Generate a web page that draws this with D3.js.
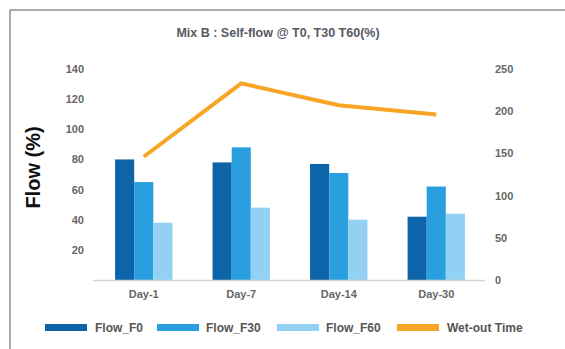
<!DOCTYPE html>
<html>
<head>
<meta charset="utf-8">
<script src="https://cdn.jsdelivr.net/npm/d3@7"></script>
<style>
  html, body { margin: 0; padding: 0; background: #fff; }
  svg { display: block; font-family: "Liberation Sans", Arial, "DejaVu Sans", sans-serif; }
</style>
</head>
<body>
<svg id="chart" width="565" height="349"></svg>
<script>
// Flow (%) per day for each series, wet-out time on the secondary axis
const days = ["Day-1", "Day-7", "Day-14", "Day-30"];
const flowF0 = [80, 78, 77, 42];
const flowF30 = [65, 88, 71, 62];
const flowF60 = [38, 48, 40, 44];
const wetOutTime = [146, 233, 207, 196];
const leftTicks = [20, 40, 60, 80, 100, 120, 140];
const rightTicks = [0, 50, 100, 150, 200, 250];
const seriesNames = ["Flow_F0", "Flow_F30", "Flow_F60"];
const seriesColors = ["#0e64a8", "#2a9fdf", "#92d1f3"];
const lineName = "Wet-out Time";
const lineColor = "#f6a524";

const svg = d3.select("#chart");
const W = 565, H = 349;
const plot = { left: 95, right: 485, top: 69, bottom: 280 };

// outer frame (runs off the right and bottom edges)
svg.append("rect")
  .attr("x", 10).attr("y", 10)
  .attr("width", W).attr("height", H)
  .attr("fill", "none").attr("stroke", "#8c929b").attr("stroke-width", 1.5);

svg.append("text")
  .attr("x", 278).attr("y", 37)
  .attr("text-anchor", "middle")
  .attr("font-size", 12.5).attr("font-weight", "bold")
  .attr("fill", "#555a63")
  .text("Mix B : Self-flow @ T0, T30 T60(%)");

const x = d3.scaleBand().domain(days).range([plot.left, plot.right]).paddingInner(0).paddingOuter(0);
const x1 = d3.scaleBand().domain(seriesNames).range([0, x.bandwidth()]).paddingInner(0).paddingOuter(1.05);
const yL = d3.scaleLinear().domain([0, 140]).range([plot.bottom, plot.top]);
const yR = d3.scaleLinear().domain([0, 250]).range([plot.bottom, plot.top]);

// left axis labels
const leftAxis = d3.axisLeft(yL).tickValues(leftTicks).tickSize(0).tickPadding(0);
const gL = svg.append("g").attr("transform", `translate(84,0)`).call(leftAxis);
gL.select(".domain").remove();
gL.selectAll("text").attr("font-size", 11).attr("font-weight", "bold").attr("fill", "#666").attr("font-family", null);

// right axis labels
const rightAxis = d3.axisRight(yR).tickValues(rightTicks).tickSize(0).tickPadding(0);
const gR = svg.append("g").attr("transform", `translate(495,0)`).call(rightAxis);
gR.select(".domain").remove();
gR.selectAll("text").attr("font-size", 11).attr("font-weight", "bold").attr("fill", "#666").attr("font-family", null);

svg.append("text")
  .attr("transform", `translate(40,${(plot.top + plot.bottom) / 2 - 7}) rotate(-90)`)
  .attr("text-anchor", "middle")
  .attr("font-size", 20).attr("font-weight", "bold").attr("fill", "#111")
  .text("Flow (%)");

// bars
const allSeries = [flowF0, flowF30, flowF60];
const groups = svg.append("g");
days.forEach((d, i) => {
  allSeries.forEach((vals, s) => {
    groups.append("rect")
      .attr("x", x(d) + x1(seriesNames[s]))
      .attr("y", yL(vals[i]))
      .attr("width", x1.bandwidth())
      .attr("height", plot.bottom - yL(vals[i]))
      .attr("fill", seriesColors[s]);
  });
});

// baseline
svg.append("line")
  .attr("x1", plot.left - 2).attr("x2", plot.right)
  .attr("y1", plot.bottom + 0.5).attr("y2", plot.bottom + 0.5)
  .attr("stroke", "#d9d6cc").attr("stroke-width", 1.5);

// category labels
const xAxis = d3.axisBottom(x).tickSize(0).tickPadding(0);
const gX = svg.append("g").attr("transform", `translate(0,${plot.bottom + 10})`).call(xAxis);
gX.select(".domain").remove();
gX.selectAll("text").attr("font-size", 11).attr("font-weight", "bold").attr("fill", "#666").attr("font-family", null);

// wet-out time line
const line = d3.line()
  .x((v, i) => x(days[i]) + x.bandwidth() / 2)
  .y(v => yR(v));
svg.append("path")
  .datum(wetOutTime)
  .attr("d", line)
  .attr("fill", "none")
  .attr("stroke", lineColor)
  .attr("stroke-width", 4)
  .attr("stroke-linejoin", "round");

// legend
const legendItems = [
  { name: seriesNames[0], color: seriesColors[0], x: 45, tx: 95 },
  { name: seriesNames[1], color: seriesColors[1], x: 157, tx: 206 },
  { name: seriesNames[2], color: seriesColors[2], x: 277, tx: 326 },
  { name: lineName, color: lineColor, x: 397, tx: 447 }
];
const lg = svg.append("g");
legendItems.forEach(it => {
  lg.append("rect")
    .attr("x", it.x).attr("y", 324)
    .attr("width", 42).attr("height", 7)
    .attr("fill", it.color);
  lg.append("text")
    .attr("x", it.tx).attr("y", 332)
    .attr("font-size", 12).attr("font-weight", "bold").attr("fill", "#555")
    .text(it.name);
});
</script>
</body>
</html>
